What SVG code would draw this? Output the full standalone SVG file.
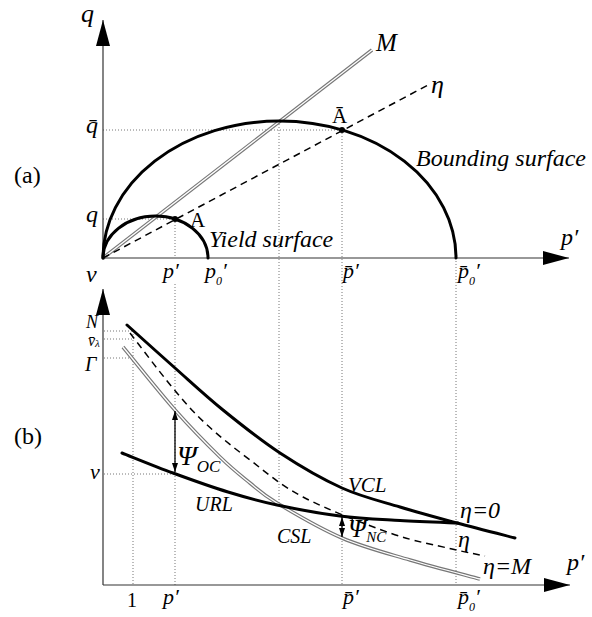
<svg xmlns="http://www.w3.org/2000/svg" width="592" height="617" viewBox="0 0 592 617">
<style>
.t{font-family:"Liberation Serif","Times New Roman",serif;fill:#000}
.i{font-style:italic}
.ax{stroke:#333;stroke-width:1.2;fill:none}
.dot{stroke:#777;stroke-width:1;stroke-dasharray:1 2;fill:none}
.thick{stroke:#000;stroke-width:3;fill:none;stroke-linecap:round}
.dash{stroke:#000;stroke-width:1.5;stroke-dasharray:7 5;fill:none}
.dbl1{stroke:#777;stroke-width:3.6;fill:none}
.dbl2{stroke:#fff;stroke-width:1.3;fill:none}
.arr{stroke:#000;stroke-width:1.3;fill:none}
</style>
<defs>
<marker id="ax" viewBox="0 0 26 14" refX="26" refY="7" markerWidth="26" markerHeight="14" orient="auto" markerUnits="userSpaceOnUse"><path d="M0,0 L26,7 L0,14 z" fill="#000"/></marker>
<marker id="sa" viewBox="0 0 9 6" refX="9" refY="3" markerWidth="9" markerHeight="6" orient="auto-start-reverse" markerUnits="userSpaceOnUse"><path d="M0,0 L9,3 L0,6 z" fill="#000"/></marker>
</defs>
<rect width="592" height="617" fill="#fff"/>

<g id="guides">
<line class="dot" x1="103" y1="130" x2="342" y2="130"/>
<line class="dot" x1="103" y1="219" x2="175" y2="219"/>
<line class="dot" x1="175" y1="219" x2="175" y2="258"/>
<line class="dot" x1="175" y1="284" x2="175" y2="585"/>
<line class="dot" x1="279" y1="121" x2="279" y2="503"/>
<line class="dot" x1="342" y1="130" x2="342" y2="585"/>
<line class="dot" x1="456" y1="258" x2="456" y2="585"/>
<line class="dot" x1="133" y1="331" x2="133" y2="585"/>
<line class="dot" x1="104" y1="331" x2="133" y2="331"/>
<line class="dot" x1="104" y1="339" x2="133" y2="339"/>
<line class="dot" x1="104" y1="358" x2="133" y2="358"/>
<line class="dot" x1="104" y1="474" x2="175" y2="474"/>
</g>

<g id="axes">
<line class="ax" x1="103" y1="258" x2="103" y2="20" marker-end="url(#ax)"/>
<line class="ax" x1="103" y1="258" x2="569" y2="258" marker-end="url(#ax)"/>
<line class="ax" x1="103" y1="585" x2="103" y2="289" marker-end="url(#ax)"/>
<line class="ax" x1="103" y1="585" x2="570" y2="585" marker-end="url(#ax)"/>
</g>

<g id="panel-a">
<g id="M-line"><path class="dbl1" d="M103,258 L372,50"/><path class="dbl2" d="M103,258 L372,50"/></g>
<path id="eta-line" class="dash" d="M103,258 L428,85"/>
<path id="bounding-surface" class="thick" d="M103,258 A176.5,137 0 0 1 456,258"/>
<path id="yield-surface" class="thick" d="M103,258 A52.5,42 0 0 1 208,258"/>
<circle id="point-Abar" cx="342" cy="130" r="3"/>
<circle id="point-A" cx="175" cy="219" r="3"/>
</g>

<g id="panel-b">
<g id="CSL"><path class="dbl1" d="M123,347 C131.7,357.5 158.8,391.7 175,410 C191.2,428.3 207.5,444.8 220,457 C232.5,469.2 240.5,475.3 250,483 C259.5,490.7 261.7,493.8 277,503 C292.3,512.2 319.8,528.5 342,538 C364.2,547.5 387,553.2 410,560 C433,566.8 468.3,575.8 480,579"/><path class="dbl2" d="M123,347 C131.7,357.5 158.8,391.7 175,410 C191.2,428.3 207.5,444.8 220,457 C232.5,469.2 240.5,475.3 250,483 C259.5,490.7 261.7,493.8 277,503 C292.3,512.2 319.8,528.5 342,538 C364.2,547.5 387,553.2 410,560 C433,566.8 468.3,575.8 480,579"/></g>
<path id="eta-curve" class="dash" d="M130,333 C137,342 159.5,372 172,387 C184.5,402 192,410.8 205,423 C218,435.2 233.7,447.7 250,460 C266.3,472.3 279.7,484.8 303,497 C326.3,509.2 365.2,524.3 390,533 C414.8,541.7 436.2,545.2 452,549 C467.8,552.8 479.5,554.8 485,556"/>
<path id="VCL" class="thick" d="M127,325 C135,332.2 159,353.8 175,368 C191,382.2 205.5,395.8 223,410 C240.5,424.2 260.2,440 280,453 C299.8,466 322,479 342,488 C362,497 380.8,501.2 400,507 C419.2,512.8 437.8,517.8 457,523 C476.2,528.2 505.3,535.5 515,538"/>
<path id="URL" class="thick" d="M122,453 C130.5,456.3 155.3,466.5 173,473 C190.7,479.5 210.7,486.7 228,492 C245.3,497.3 258.3,501 277,505 C295.7,509 319.5,513.4 340,516 C360.5,518.6 380.3,519.3 400,520.5 C419.7,521.7 448.3,522.6 458,523"/>
<line id="psi-oc" class="arr" x1="175" y1="411" x2="175" y2="472" marker-start="url(#sa)" marker-end="url(#sa)"/>
<line id="psi-nc" class="arr" x1="342" y1="517" x2="342" y2="537" marker-start="url(#sa)" marker-end="url(#sa)"/>
</g>

<g id="labels">
<text class="t" x="14" y="183" font-size="24">(a)</text>
<text class="t" x="14" y="444" font-size="24">(b)</text>
<text class="t i" x="81" y="22" font-size="26">q</text>
<text class="t i" x="86" y="133" font-size="24">q̄</text>
<text class="t i" x="86" y="222" font-size="24">q</text>
<text class="t i" x="376" y="51" font-size="25">M</text>
<text class="t i" x="431" y="93" font-size="26">η</text>
<text class="t" x="332" y="123" font-size="21">Ā</text>
<text class="t" x="190" y="227" font-size="21">A</text>
<text class="t i" x="416" y="166" font-size="24">Bounding surface</text>
<text class="t i" x="209" y="247" font-size="24">Yield surface</text>
<text class="t i" x="561" y="245" font-size="24">p′</text>
<text class="t i" x="163" y="278" font-size="22">p′</text>
<text class="t i" x="205" y="278" font-size="22">p<tspan font-size="12" dy="7">0</tspan><tspan dy="-7">′</tspan></text>
<text class="t i" x="343" y="278" font-size="22">p̄′</text>
<text class="t i" x="458" y="278" font-size="22">p̄<tspan font-size="12" dy="7">0</tspan><tspan dy="-7">′</tspan></text>
<text class="t i" x="86" y="282" font-size="24">v</text>
<text class="t i" x="86" y="328" font-size="18">N</text>
<text class="t i" x="88" y="346" font-size="16">v̄<tspan font-size="11" dy="1">λ</tspan></text>
<text class="t i" x="85" y="371" font-size="20">Γ</text>
<text class="t i" x="90" y="479" font-size="22">v</text>
<text class="t i" x="177" y="465" font-size="28">Ψ<tspan font-size="17" dy="7">OC</tspan></text>
<text class="t i" x="348" y="492" font-size="21">VCL</text>
<text class="t i" x="195" y="511" font-size="20">URL</text>
<text class="t i" x="277" y="543" font-size="20">CSL</text>
<text class="t i" x="460" y="518" font-size="24">η=0</text>
<text class="t i" x="458" y="547" font-size="24">η</text>
<text class="t i" x="348" y="537" font-size="26">Ψ<tspan font-size="15" dy="5">NC</tspan></text>
<text class="t i" x="483" y="574" font-size="24">η=M</text>
<text class="t i" x="567" y="570" font-size="24">p′</text>
<text class="t" x="127" y="607" font-size="20">1</text>
<text class="t i" x="163" y="604" font-size="22">p′</text>
<text class="t i" x="343" y="604" font-size="22">p̄′</text>
<text class="t i" x="458" y="604" font-size="22">p̄<tspan font-size="12" dy="7">0</tspan><tspan dy="-7">′</tspan></text>
</g>
</svg>
